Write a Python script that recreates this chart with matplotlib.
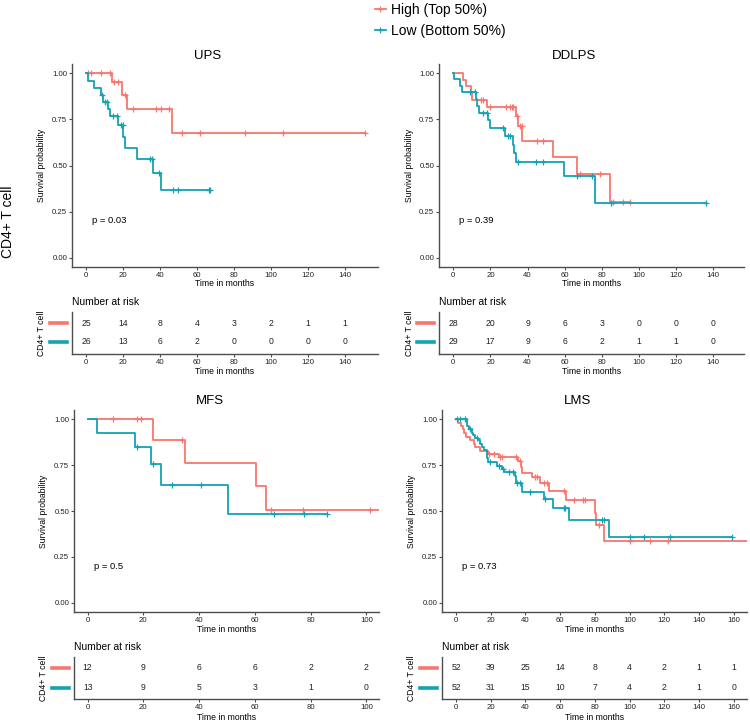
import matplotlib
matplotlib.use("Agg")
import matplotlib.pyplot as plt
from matplotlib.lines import Line2D
import numpy as np

plt.rcParams["font.family"] = ["Liberation Sans", "DejaVu Sans"]

W, H = 750, 724
RED = "#F8766D"
TEAL = "#14A3B4"
AXC = "#4D4D4D"

group_labels = ["High (Top 50%)", "Low (Bottom 50%)"]
row_label = "CD4+ T cell"

# ---- UPS ----
ups_hi_t = [13.9, 19.7, 22.4, 46.6]
ups_hi_s = [0.952, 0.882, 0.806, 0.675]
ups_hi_c = [1.3, 2.5, 8.1, 13.0, 15.3, 17.5, 21.0, 25.6, 37.8, 40.6, 45.0,
            51.8, 61.8, 86.2, 106.4, 150.8]
ups_hi_end = 150.8
ups_lo_t = [0.9, 4.5, 8.1, 9.4, 12.1, 13.0, 17.5, 20.2, 21.1, 27.8, 36.5, 40.6]
ups_lo_s = [0.96, 0.92, 0.88, 0.846, 0.808, 0.769, 0.72, 0.656, 0.597, 0.537,
            0.459, 0.369]
ups_lo_c = [8.5, 10.3, 11.2, 14.8, 16.6, 18.8, 19.9, 34.7, 35.6, 39.7, 47.3,
            50.0, 66.3, 67.2]
ups_lo_end = 67.2
ups_ticks = [0, 20, 40, 60, 80, 100, 120, 140]
ups_risk_hi = [25, 14, 8, 4, 3, 2, 1, 1]
ups_risk_lo = [26, 13, 6, 2, 0, 0, 0, 0]

# ---- DDLPS ----
ddlps_hi_t = [5.4, 6.6, 9.3, 9.9, 17.9, 33.6, 35.0, 37.2, 53.8, 66.8, 84.4]
ddlps_hi_s = [0.964, 0.929, 0.893, 0.857, 0.818, 0.766, 0.713, 0.633, 0.546,
              0.456, 0.30]
ddlps_hi_c = [14.9, 16.2, 19.7, 28.4, 30.5, 31.4, 32.3, 34.2, 35.9, 36.8, 44.9,
              48.5, 68.2, 79.0, 86.2, 91.5, 95.1]
ddlps_hi_end = 95.1
ddlps_lo_t = [0.5, 3.6, 4.7, 12.2, 12.6, 14.0, 18.8, 19.7, 27.8, 31.9, 32.7,
              33.7, 59.6, 76.3]
ddlps_lo_s = [0.967, 0.931, 0.897, 0.858, 0.82, 0.784, 0.744, 0.704, 0.659,
              0.61, 0.568, 0.517, 0.441, 0.296]
ddlps_lo_c = [9.0, 11.7, 16.2, 17.9, 26.9, 29.3, 30.5, 35.0, 44.3, 48.5, 66.4,
              74.5, 84.7, 136.0]
ddlps_lo_end = 136.0
ddlps_ticks = [0, 20, 40, 60, 80, 100, 120, 140]
ddlps_risk_hi = [28, 20, 9, 6, 3, 0, 0, 0]
ddlps_risk_lo = [29, 17, 9, 6, 2, 1, 1, 0]

# ---- MFS ----
mfs_hi_t = [23.3, 34.9, 60.3, 63.8]
mfs_hi_s = [0.889, 0.762, 0.635, 0.508]
mfs_hi_c = [9.2, 17.6, 19.0, 34.0, 65.6, 77.3, 101.2]
mfs_hi_end = 104.5
mfs_lo_t = [3.2, 17.0, 22.7, 26.3, 50.3]
mfs_lo_s = [0.923, 0.846, 0.754, 0.644, 0.483]
mfs_lo_c = [17.6, 23.3, 30.1, 40.7, 66.8, 77.7, 85.7]
mfs_lo_end = 85.7
mfs_ticks = [0, 20, 40, 60, 80, 100]
mfs_risk_hi = [12, 9, 6, 6, 2, 2]
mfs_risk_lo = [13, 9, 5, 3, 1, 0]

# ---- LMS ----
lms_hi_t = [1.0, 2.9, 3.8, 4.4, 6.0, 7.9, 10.2, 11.1, 14.0, 18.5, 24.6, 35.5,
            37.4, 38.0, 43.8, 48.6, 53.4, 63.6, 80.3, 80.9, 85.1]
lms_hi_s = [0.98, 0.962, 0.944, 0.925, 0.904, 0.886, 0.867, 0.848, 0.828,
            0.812, 0.792, 0.772, 0.74, 0.705, 0.685, 0.652, 0.61, 0.56, 0.49,
            0.423, 0.338]
lms_hi_c = [18.8, 21.7, 25.5, 26.5, 34.8, 36.7, 45.3, 46.7, 50.5, 52.4, 62.0,
            67.8, 73.2, 74.5, 82.2, 100.5, 111.6, 122.2]
lms_hi_end = 168.0
lms_lo_t = [6.3, 7.5, 9.2, 10.0, 11.1, 12.5, 14.0, 15.0, 16.0, 17.9, 18.4, 23.6,
            26.5, 27.9, 34.2, 34.8, 38.0, 50.5, 55.9, 64.9, 88.2]
lms_lo_s = [0.962, 0.945, 0.927, 0.915, 0.90, 0.885, 0.864, 0.846, 0.831, 0.79,
            0.768, 0.746, 0.73, 0.713, 0.69, 0.65, 0.604, 0.568, 0.514, 0.449,
            0.358]
lms_lo_c = [0.6, 2.5, 5.4, 8.0, 12.0, 19.8, 25.0, 27.2, 30.3, 32.8, 35.2, 36.7,
            42.5, 51.5, 62.0, 63.0, 84.2, 85.5, 100.5, 108.1, 123.3, 158.8]
lms_lo_end = 158.8
lms_ticks = [0, 20, 40, 60, 80, 100, 120, 140, 160]
lms_risk_hi = [52, 39, 25, 14, 8, 4, 2, 1, 1]
lms_risk_lo = [52, 31, 15, 10, 7, 4, 2, 1, 0]

p_values = ["p = 0.03", "p = 0.39", "p = 0.5", "p = 0.73"]


def fx(x):
    return x / W


def fy(y):
    return 1 - y / H


def box(l, t, r, b):
    return [l / W, 1 - b / H, (r - l) / W, (b - t) / H]


def surv_at(t, s, c):
    full = np.concatenate([[1.0], s])
    idx = np.searchsorted(t, c, side="right")
    return full[idx]


def km(ax, t, s, c, end, color):
    t = np.array(t)
    s = np.array(s)
    x = np.concatenate([[0], t, [end]])
    y = np.concatenate([[1.0], s, [s[-1]]])
    ax.step(x, y, where="post", color=color, lw=1.3)
    c = np.array(c)
    ax.plot(c, surv_at(t, s, c), "+", color=color, ms=4.5, mew=0.9,
            linestyle="none")


def style(ax):
    for side in ["top", "right"]:
        ax.spines[side].set_visible(False)
    for side in ["left", "bottom"]:
        ax.spines[side].set_color(AXC)
        ax.spines[side].set_linewidth(1.0)
    ax.tick_params(length=2.5, width=0.8, color=AXC, labelsize=5.6, pad=1.0,
                   labelcolor="#222222")


def panel(name, curves, ticks, risk, pval, l, r, xlim, row):
    (tm, bm, title_y, xlab_y, nar_y, tt, tb, r1, r2, txlab_y) = row
    # main KM plot
    ax = fig.add_axes(box(l, tm, r, bm))
    for (t, s, c, end), col in zip(curves, [RED, TEAL]):
        km(ax, t, s, c, end, col)
    ax.set_xlim(*xlim)
    ax.set_ylim(-0.05, 1.05)
    ax.set_xticks(ticks)
    ax.set_yticks([0, 0.25, 0.5, 0.75, 1.0])
    ax.set_yticklabels(["0.00", "0.25", "0.50", "0.75", "1.00"])
    style(ax)
    ax.text(20 / (r - l), 0.2, pval, transform=ax.get_yaxis_transform(),
            ha="left", va="center", fontsize=6.8)
    fig.text(fx((l + r) / 2 - 17), fy(title_y), name, ha="center",
             va="center", fontsize=9.5)
    fig.text(fx((l + r) / 2), fy(xlab_y), "Time in months", ha="center",
             va="center", fontsize=6.2)
    fig.text(fx(l - 30), fy((tm + bm) / 2), "Survival probability",
             rotation=90, ha="center", va="center", fontsize=6.2)

    # number-at-risk table
    tab = fig.add_axes(box(l, tt, r, tb))
    sp = r2 - r1
    tab.set_ylim(-(tb - r2) / sp, 1 + (r1 - tt) / sp)
    tab.set_xlim(*xlim)
    tab.set_xticks(ticks)
    tab.set_yticks([])
    style(tab)
    for yrow, vals in zip([1, 0], risk):
        for xt, n in zip(ticks, vals):
            tab.text(xt, yrow, str(n), ha="center", va="center", fontsize=6.2,
                     color="#222222")
        col = RED if yrow == 1 else TEAL
        tab.add_line(Line2D([-22 / (r - l), -5 / (r - l)], [yrow, yrow],
                            transform=tab.get_yaxis_transform(), color=col,
                            lw=2.6, clip_on=False))
    fig.text(fx(l), fy(nar_y), "Number at risk", ha="left", va="center",
             fontsize=7.4)
    fig.text(fx(l - 30), fy((tt + tb) / 2), row_label, rotation=90,
             ha="center", va="center", fontsize=6.2)
    fig.text(fx((l + r) / 2), fy(txlab_y), "Time in months", ha="center",
             va="center", fontsize=6.2)


fig = plt.figure(figsize=(W / 100, H / 100), dpi=100)

top_row = (64, 267, 56, 284, 302, 312, 354, 323, 342, 371)
bot_row = (410, 612, 401, 629.5, 647, 657, 699, 668, 688, 717.5)

panel("UPS",
      [(ups_hi_t, ups_hi_s, ups_hi_c, ups_hi_end),
       (ups_lo_t, ups_lo_s, ups_lo_c, ups_lo_end)],
      ups_ticks, [ups_risk_hi, ups_risk_lo], p_values[0],
      72, 378, (-7.6, 158.0), top_row)
panel("DDLPS",
      [(ddlps_hi_t, ddlps_hi_s, ddlps_hi_c, ddlps_hi_end),
       (ddlps_lo_t, ddlps_lo_s, ddlps_lo_c, ddlps_lo_end)],
      ddlps_ticks, [ddlps_risk_hi, ddlps_risk_lo], p_values[1],
      439, 744, (-7.7, 156.5), top_row)
panel("MFS",
      [(mfs_hi_t, mfs_hi_s, mfs_hi_c, mfs_hi_end),
       (mfs_lo_t, mfs_lo_s, mfs_lo_c, mfs_lo_end)],
      mfs_ticks, [mfs_risk_hi, mfs_risk_lo], p_values[2],
      74, 379, (-4.9, 104.5), bot_row)
panel("LMS",
      [(lms_hi_t, lms_hi_s, lms_hi_c, lms_hi_end),
       (lms_lo_t, lms_lo_s, lms_lo_c, lms_lo_end)],
      lms_ticks, [lms_risk_hi, lms_risk_lo], p_values[3],
      442, 747, (-8.1, 167.7), bot_row)

# big row label on the left
fig.text(fx(8), fy(222), row_label, rotation=90, ha="center", va="center",
         fontsize=10)

# legend at the top
handles = [Line2D([], [], color=RED, lw=1.3, marker="+", ms=4.5, mew=0.9),
           Line2D([], [], color=TEAL, lw=1.3, marker="+", ms=4.5, mew=0.9)]
fig.legend(handles, group_labels, loc="upper left",
           bbox_to_anchor=(fx(372), fy(0.5)), frameon=False, fontsize=10,
           handlelength=0.8, handletextpad=0.35, labelspacing=0.5,
           borderpad=0.2, borderaxespad=0)

fig.savefig("out.png", dpi=100)
